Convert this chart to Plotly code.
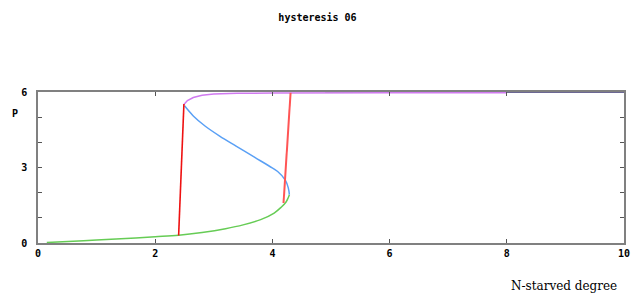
import plotly.graph_objects as go

# lower stable branch (green)
low_x = [0.15, 0.6, 1.0, 1.5, 2.0, 2.4, 2.8, 3.2, 3.5, 3.8, 4.03, 4.15, 4.23, 4.27, 4.29]
low_y = [0.02, 0.07, 0.12, 0.18, 0.25, 0.31, 0.42, 0.57, 0.72, 0.93, 1.19, 1.42, 1.62, 1.80, 1.92]
# middle unstable branch (blue)
mid_x = [4.29, 4.27, 4.22, 4.09, 3.95, 3.70, 3.38, 3.10, 2.85, 2.65, 2.50]
mid_y = [1.92, 2.20, 2.50, 2.84, 3.05, 3.40, 3.85, 4.25, 4.65, 5.05, 5.45]
# upper stable branch (purple)
up_x = [2.49, 2.55, 2.65, 2.80, 3.00, 3.40, 4.00, 4.90, 6.00, 8.00]
up_y = [5.50, 5.66, 5.78, 5.87, 5.92, 5.95, 5.96, 5.97, 5.97, 5.97]
# top continuation segments
top_green_x = [4.90, 8.00]
top_green_y = [6.0, 6.0]
top_navy_x = [8.00, 10.00]
top_navy_y = [6.0, 6.0]
# jump lines (red)
jump_left_x = [2.40, 2.49]
jump_left_y = [0.30, 5.52]
jump_right_x = [4.19, 4.31]
jump_right_y = [1.59, 5.97]

x_ticks = [0, 2, 4, 6, 8, 10]
y_ticks = [0, 1, 2, 3, 4, 5, 6]
y_tick_text = ["0", "", "", "3", "", "", "6"]

fig = go.Figure()
fig.add_trace(go.Scatter(x=top_green_x, y=top_green_y, mode="lines",
                         line=dict(color="#77aa77", width=1.3)))
fig.add_trace(go.Scatter(x=up_x, y=up_y, mode="lines",
                         line=dict(color="#d07af0", width=1.5)))
fig.add_trace(go.Scatter(x=top_navy_x, y=top_navy_y, mode="lines",
                         line=dict(color="#3a3570", width=1.5)))
fig.add_trace(go.Scatter(x=low_x, y=low_y, mode="lines",
                         line=dict(color="#66cc55", width=1.5, shape="spline")))
fig.add_trace(go.Scatter(x=mid_x, y=mid_y, mode="lines",
                         line=dict(color="#5aa0f5", width=1.5, shape="spline")))
fig.add_trace(go.Scatter(x=jump_left_x, y=jump_left_y, mode="lines",
                         line=dict(color="#ee1111", width=1.6)))
fig.add_trace(go.Scatter(x=jump_right_x, y=jump_right_y, mode="lines",
                         line=dict(color="#ff5555", width=2)))

tickfont = dict(family="DejaVu Sans Mono", size=10, color="#000000", weight="bold")

fig.update_layout(
    width=635, height=293,
    margin=dict(l=38, r=5, t=92, b=50),
    paper_bgcolor="white", plot_bgcolor="white",
    showlegend=False,
    title=dict(text="hysteresis 06", x=0.5, xanchor="center", y=0.94, yanchor="middle",
               font=dict(family="DejaVu Sans Mono", size=10, color="#000000", weight="bold")),
    xaxis=dict(range=[0, 10], tickvals=x_ticks, ticks="inside", ticklen=4,
               showgrid=False, zeroline=False, showline=True, linecolor="#808080",
               linewidth=1.5, mirror="ticks", tickcolor="#555555",
               tickfont=tickfont),
    yaxis=dict(range=[0, 6], tickvals=y_ticks, ticktext=y_tick_text, ticks="inside",
               ticklen=4, showgrid=False, zeroline=False, showline=True,
               linecolor="#808080", linewidth=1.5, mirror="ticks", tickcolor="#555555",
               tickfont=tickfont, ticklabelstandoff=7),
    annotations=[
        dict(text="P", xref="paper", yref="paper", x=-0.04, y=0.86, showarrow=False,
             xanchor="center", yanchor="middle",
             font=dict(family="DejaVu Sans Mono", size=10, color="#000000", weight="bold")),
        dict(text="N-starved degree", xref="paper", yref="paper", x=0.992, y=-0.285,
             showarrow=False, xanchor="right", yanchor="middle",
             font=dict(family="DejaVu Serif", size=12, color="#000000")),
    ],
)

fig.write_html("out.html", config={"displayModeBar": False},
               post_script="document.body.style.margin='0';document.body.style.overflow='hidden';")
